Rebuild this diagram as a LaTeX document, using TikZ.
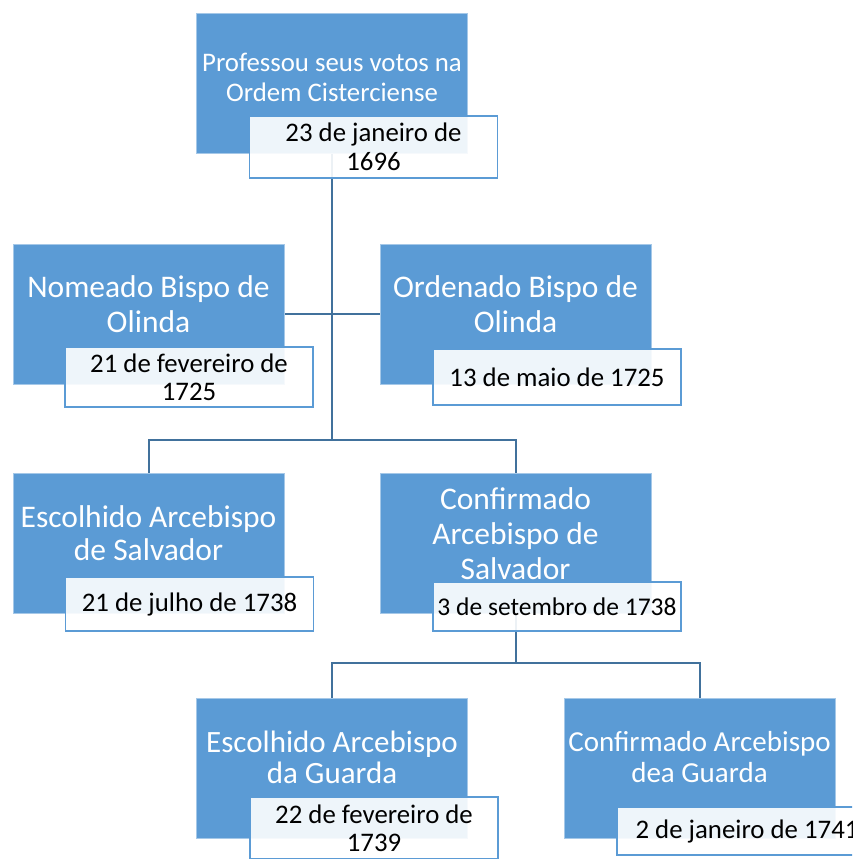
\documentclass[tikz,border=0pt]{standalone}
\usepackage{fontspec}
\setmainfont{Carlito}
\usetikzlibrary{backgrounds}
\definecolor{boxblue}{RGB}{91,155,213}
\definecolor{linkblue}{RGB}{65,113,156}
\begin{document}
\begin{tikzpicture}[x=1pt,y=-1pt,
  event/.style={fill=boxblue, draw=boxblue!55!white, line width=0.8pt,
    minimum width=271pt, minimum height=140pt, inner sep=0pt},
  caption/.style={text=white, align=center, inner sep=0pt},
  datebox/.style={draw=boxblue, line width=1.8pt, fill=white, fill opacity=0.9,
    text opacity=1, minimum width=248pt, inner sep=0pt, align=center, text=black},
  link/.style={draw=linkblue, line width=2pt}]
\clip (0,0) rectangle (852,859);
\useasboundingbox (0,0) rectangle (852,859);

% event boxes
\node[event] (b1) at (332,83) {};
\node[event] (b2) at (148.5,314) {};
\node[event] (b3) at (515.5,314) {};
\node[event] (b4) at (148.5,543) {};
\node[event] (b5) at (515.5,543) {};
\node[event] (b6) at (332,768) {};
\node[event] (b7) at (699.5,768) {};

% event titles
\node[caption, yshift=6pt, font=\fontsize{26.8}{30}\selectfont] (t1) at (b1)
  {Professou seus votos na\\Ordem Cisterciense};
\node[caption, yshift=10pt, font=\fontsize{31.5}{35}\selectfont] (t2) at (b2)
  {Nomeado Bispo de\\Olinda};
\node[caption, yshift=10pt, font=\fontsize{31.5}{35}\selectfont] (t3) at (b3)
  {Ordenado Bispo de\\Olinda};
\node[caption, yshift=10pt, font=\fontsize{31.5}{33}\selectfont] (t4) at (b4)
  {Escolhido Arcebispo\\de Salvador};
\node[caption, yshift=9pt, font=\fontsize{31.5}{35}\selectfont] (t5) at (b5)
  {Confirmado\\Arcebispo de\\Salvador};
\node[caption, yshift=11pt, font=\fontsize{31}{31}\selectfont] (t6) at (b6)
  {Escolhido Arcebispo\\da Guarda};
\node[caption, yshift=11pt, font=\fontsize{29}{31}\selectfont] (t7) at (b7)
  {Confirmado Arcebispo\\dea Guarda};

% date labels
\node[datebox, minimum height=62pt, font=\fontsize{26.8}{29}\selectfont] (d1) at (373.5,147)
  {23 de janeiro de\\1696};
\node[datebox, minimum height=60pt, font=\fontsize{26.8}{28}\selectfont] (d2) at (189,377)
  {21 de fevereiro de\\1725};
\node[datebox, minimum height=56pt, font=\fontsize{26.8}{28}\selectfont] (d3) at (557,377)
  {13 de maio de 1725};
\node[datebox, minimum height=54pt, font=\fontsize{26.8}{28}\selectfont] (d4) at (189.5,604)
  {21 de julho de 1738};
\node[datebox, minimum height=49pt, font=\fontsize{25.5}{28}\selectfont] (d5) at (557,606.5)
  {3 de setembro de 1738};
\node[datebox, minimum height=62pt, font=\fontsize{26.8}{28}\selectfont] (d6) at (374,828)
  {22 de fevereiro de\\1739};
\node[datebox, minimum width=260pt, minimum height=48pt, font=\fontsize{26.8}{28}\selectfont] (d7) at (747,831)
  {2 de janeiro de 1741};

% connectors, behind the boxes
\coordinate (j1) at (332,440);
\coordinate (j2) at (515.5,663);
\begin{scope}[on background layer]
  \draw[link] (b1.center) -- (j1);
  \draw[link] (b2.east) -- (b3.west);
  \draw[link] (b4.north) |- (j1) -| (b5.north);
  \draw[link] (b5.center) -- (j2);
  \draw[link] (b6.north) |- (j2) -| (b7.north);
\end{scope}
\end{tikzpicture}
\end{document}
